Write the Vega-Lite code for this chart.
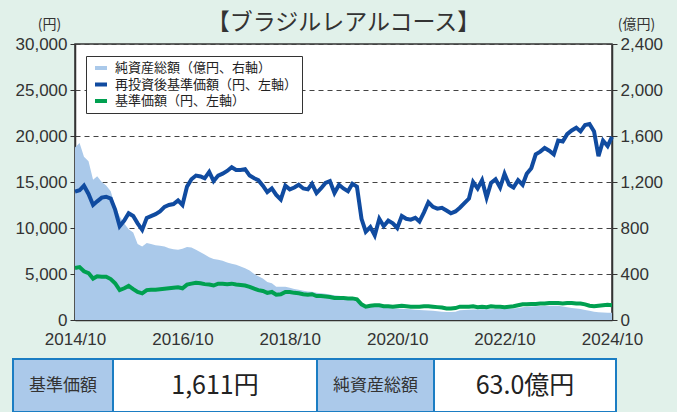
{
  "$schema": "https://vega.github.io/schema/vega-lite/v6.json",
  "background": "#e1f1ea",
  "autosize": {"type": "none"},
  "padding": {"left": 13, "top": 44, "right": 664, "bottom": 368},
  "config": {"font": "Noto Sans CJK JP", "view": {"stroke": null}},
  "datasets": {
    "series": [
      {"d":"2014-10-01","re":13950,"nav":5650,"aum":1500},
      {"d":"2014-11-01","re":14100,"nav":5750,"aum":1540},
      {"d":"2014-12-01","re":14600,"nav":5300,"aum":1420},
      {"d":"2015-01-01","re":13700,"nav":5100,"aum":1380},
      {"d":"2015-02-01","re":12500,"nav":4500,"aum":1220},
      {"d":"2015-03-01","re":12900,"nav":4750,"aum":1250},
      {"d":"2015-04-01","re":13300,"nav":4700,"aum":1200},
      {"d":"2015-05-01","re":13400,"nav":4700,"aum":1170},
      {"d":"2015-06-01","re":13200,"nav":4450,"aum":1120},
      {"d":"2015-07-01","re":12000,"nav":4000,"aum":990},
      {"d":"2015-08-01","re":10200,"nav":3250,"aum":900},
      {"d":"2015-09-01","re":10800,"nav":3450,"aum":840},
      {"d":"2015-10-01","re":11600,"nav":3700,"aum":790},
      {"d":"2015-11-01","re":11300,"nav":3350,"aum":760},
      {"d":"2015-12-01","re":10500,"nav":3050,"aum":660},
      {"d":"2016-01-01","re":9800,"nav":2900,"aum":640},
      {"d":"2016-02-01","re":11100,"nav":3250,"aum":670},
      {"d":"2016-03-01","re":11300,"nav":3300,"aum":660},
      {"d":"2016-04-01","re":11500,"nav":3300,"aum":650},
      {"d":"2016-05-01","re":11800,"nav":3350,"aum":645},
      {"d":"2016-06-01","re":12300,"nav":3400,"aum":640},
      {"d":"2016-07-01","re":12500,"nav":3450,"aum":625},
      {"d":"2016-08-01","re":12600,"nav":3500,"aum":615},
      {"d":"2016-09-01","re":13000,"nav":3550,"aum":610},
      {"d":"2016-10-01","re":12500,"nav":3450,"aum":620},
      {"d":"2016-11-01","re":14500,"nav":3850,"aum":635},
      {"d":"2016-12-01","re":15300,"nav":3950,"aum":630},
      {"d":"2017-01-01","re":15700,"nav":4050,"aum":610},
      {"d":"2017-02-01","re":15600,"nav":4000,"aum":590},
      {"d":"2017-03-01","re":15400,"nav":3900,"aum":570},
      {"d":"2017-04-01","re":16100,"nav":3850,"aum":545},
      {"d":"2017-05-01","re":15100,"nav":3750,"aum":530},
      {"d":"2017-06-01","re":15700,"nav":3950,"aum":525},
      {"d":"2017-07-01","re":15900,"nav":3950,"aum":515},
      {"d":"2017-08-01","re":16200,"nav":3900,"aum":500},
      {"d":"2017-09-01","re":16600,"nav":3950,"aum":490},
      {"d":"2017-10-01","re":16300,"nav":3850,"aum":480},
      {"d":"2017-11-01","re":16300,"nav":3800,"aum":465},
      {"d":"2017-12-01","re":16400,"nav":3750,"aum":450},
      {"d":"2018-01-01","re":15700,"nav":3600,"aum":430},
      {"d":"2018-02-01","re":15400,"nav":3400,"aum":400},
      {"d":"2018-03-01","re":15200,"nav":3250,"aum":380},
      {"d":"2018-04-01","re":14600,"nav":3150,"aum":360},
      {"d":"2018-05-01","re":13900,"nav":2950,"aum":330},
      {"d":"2018-06-01","re":14300,"nav":3050,"aum":320},
      {"d":"2018-07-01","re":13600,"nav":2750,"aum":290},
      {"d":"2018-08-01","re":13100,"nav":2800,"aum":290},
      {"d":"2018-09-01","re":14600,"nav":3050,"aum":290},
      {"d":"2018-10-01","re":14200,"nav":3050,"aum":280},
      {"d":"2018-11-01","re":14400,"nav":2950,"aum":270},
      {"d":"2018-12-01","re":14700,"nav":2900,"aum":262},
      {"d":"2019-01-01","re":14300,"nav":2800,"aum":255},
      {"d":"2019-02-01","re":14200,"nav":2750,"aum":248},
      {"d":"2019-03-01","re":14800,"nav":2800,"aum":245},
      {"d":"2019-04-01","re":13800,"nav":2600,"aum":238},
      {"d":"2019-05-01","re":14300,"nav":2600,"aum":232},
      {"d":"2019-06-01","re":14900,"nav":2550,"aum":228},
      {"d":"2019-07-01","re":15100,"nav":2500,"aum":222},
      {"d":"2019-08-01","re":13800,"nav":2400,"aum":215},
      {"d":"2019-09-01","re":14700,"nav":2400,"aum":210},
      {"d":"2019-10-01","re":14300,"nav":2400,"aum":205},
      {"d":"2019-11-01","re":14000,"nav":2350,"aum":200},
      {"d":"2019-12-01","re":14800,"nav":2350,"aum":195},
      {"d":"2020-01-01","re":14500,"nav":2250,"aum":188},
      {"d":"2020-02-01","re":11000,"nav":1700,"aum":140},
      {"d":"2020-03-01","re":9600,"nav":1450,"aum":125},
      {"d":"2020-04-01","re":10100,"nav":1550,"aum":118},
      {"d":"2020-05-01","re":9200,"nav":1600,"aum":113},
      {"d":"2020-06-01","re":11000,"nav":1600,"aum":112},
      {"d":"2020-07-01","re":10200,"nav":1500,"aum":108},
      {"d":"2020-08-01","re":10800,"nav":1500,"aum":105},
      {"d":"2020-09-01","re":10500,"nav":1450,"aum":102},
      {"d":"2020-10-01","re":10000,"nav":1500,"aum":100},
      {"d":"2020-11-01","re":11300,"nav":1550,"aum":98},
      {"d":"2020-12-01","re":11000,"nav":1500,"aum":95},
      {"d":"2021-01-01","re":10900,"nav":1450,"aum":93},
      {"d":"2021-02-01","re":11100,"nav":1450,"aum":90},
      {"d":"2021-03-01","re":10700,"nav":1450,"aum":88},
      {"d":"2021-04-01","re":11700,"nav":1500,"aum":84},
      {"d":"2021-05-01","re":12800,"nav":1500,"aum":82},
      {"d":"2021-06-01","re":12300,"nav":1450,"aum":80},
      {"d":"2021-07-01","re":12100,"nav":1400,"aum":76},
      {"d":"2021-08-01","re":12200,"nav":1350,"aum":72},
      {"d":"2021-09-01","re":11900,"nav":1250,"aum":70},
      {"d":"2021-10-01","re":11600,"nav":1250,"aum":70},
      {"d":"2021-11-01","re":11800,"nav":1300,"aum":72},
      {"d":"2021-12-01","re":12200,"nav":1450,"aum":85},
      {"d":"2022-01-01","re":12700,"nav":1450,"aum":88},
      {"d":"2022-02-01","re":13200,"nav":1450,"aum":90},
      {"d":"2022-03-01","re":15000,"nav":1500,"aum":92},
      {"d":"2022-04-01","re":14300,"nav":1400,"aum":92},
      {"d":"2022-05-01","re":15200,"nav":1450,"aum":93},
      {"d":"2022-06-01","re":13300,"nav":1400,"aum":93},
      {"d":"2022-07-01","re":14900,"nav":1500,"aum":93},
      {"d":"2022-08-01","re":15300,"nav":1450,"aum":95},
      {"d":"2022-09-01","re":14400,"nav":1450,"aum":97},
      {"d":"2022-10-01","re":15900,"nav":1400,"aum":98},
      {"d":"2022-11-01","re":14700,"nav":1450,"aum":100},
      {"d":"2022-12-01","re":14400,"nav":1500,"aum":100},
      {"d":"2023-01-01","re":15200,"nav":1600,"aum":105},
      {"d":"2023-02-01","re":14700,"nav":1700,"aum":110},
      {"d":"2023-03-01","re":15900,"nav":1700,"aum":115},
      {"d":"2023-04-01","re":16500,"nav":1750,"aum":118},
      {"d":"2023-05-01","re":18000,"nav":1750,"aum":120},
      {"d":"2023-06-01","re":18300,"nav":1800,"aum":122},
      {"d":"2023-07-01","re":18700,"nav":1800,"aum":123},
      {"d":"2023-08-01","re":18400,"nav":1850,"aum":124},
      {"d":"2023-09-01","re":18000,"nav":1850,"aum":125},
      {"d":"2023-10-01","re":19500,"nav":1850,"aum":125},
      {"d":"2023-11-01","re":19400,"nav":1800,"aum":118},
      {"d":"2023-12-01","re":20200,"nav":1850,"aum":110},
      {"d":"2024-01-01","re":20600,"nav":1850,"aum":105},
      {"d":"2024-02-01","re":20900,"nav":1800,"aum":100},
      {"d":"2024-03-01","re":20500,"nav":1800,"aum":95},
      {"d":"2024-04-01","re":21200,"nav":1700,"aum":88},
      {"d":"2024-05-01","re":21300,"nav":1550,"aum":80},
      {"d":"2024-06-01","re":20500,"nav":1500,"aum":72},
      {"d":"2024-07-01","re":17800,"nav":1550,"aum":68},
      {"d":"2024-08-01","re":19500,"nav":1600,"aum":65},
      {"d":"2024-09-01","re":18900,"nav":1650,"aum":64},
      {"d":"2024-10-01","re":19900,"nav":1611,"aum":63}
    ],
    "table": [
      {"item": "基準価額", "value": "1,611円"},
      {"item": "純資産総額", "value": "63.0億円"}
    ]
  },
  "align": "none",
  "spacing": 10,
  "vconcat": [
    {
      "bounds": "flush",
      "spacing": 0,
      "hconcat": [
        {
          "width": 62,
          "height": 276,
          "data": {"values": []},
          "mark": {"type": "text"},
          "encoding": {"text": {"value": ""}}
        },
        {
          "width": 537,
          "height": 276,
          "data": {"name": "series"},
          "title": {"text": "【ブラジルレアルコース】", "fontSize": 23, "font": "Noto Sans CJK JP", "fontWeight": "normal", "color": "#333333", "anchor": "middle", "frame": "group", "offset": -18},
          "view": {"stroke": "#333333", "strokeWidth": 1.5, "fill": "white"},
          "encoding": {
            "x": {
              "field": "d", "type": "temporal",
              "scale": {"type": "utc", "domain": [{"year": 2014, "month": 10, "date": 1, "utc": true}, {"year": 2024, "month": 10, "date": 1, "utc": true}]},
              "axis": {
                "title": null,
                "values": [
                  {"year": 2014, "month": 10, "date": 1, "utc": true},
                  {"year": 2016, "month": 10, "date": 1, "utc": true},
                  {"year": 2018, "month": 10, "date": 1, "utc": true},
                  {"year": 2020, "month": 10, "date": 1, "utc": true},
                  {"year": 2022, "month": 10, "date": 1, "utc": true},
                  {"year": 2024, "month": 10, "date": 1, "utc": true}
                ],
                "format": "%Y/%m",
                "labelFlush": false,
                "labelFont": "Liberation Sans",
                "labelFontSize": 17,
                "labelColor": "#333333",
                "tickSize": -7,
                "tickColor": "#333333",
                "tickWidth": 1.2,
                "labelPadding": 18,
                "domainColor": "#333333",
                "domainWidth": 1.5,
                "grid": false
              }
            }
          },
          "layer": [
            {
              "mark": {"type": "area", "opacity": 1},
              "encoding": {
                "y": {
                  "field": "aum", "type": "quantitative",
                  "scale": {"domain": [0, 2400]},
                  "axis": {
                    "orient": "right",
                    "title": "(億円)",
                    "titleAngle": 0, "titleX": 24, "titleY": -20, "titleAlign": "center", "titleBaseline": "middle",
                    "titleFontSize": 14, "titleFontWeight": "normal", "titleColor": "#333333", "titleFont": "Noto Sans CJK JP",
                    "values": [0, 400, 800, 1200, 1600, 2000, 2400],
                    "format": ",.0f",
                    "labelFont": "Liberation Sans", "labelFontSize": 17, "labelColor": "#333333", "labelPadding": 3,
                    "tickSize": 5, "tickColor": "#333333", "domainColor": "#333333", "domainWidth": 1.5,
                    "grid": false
                  }
                },
                "color": {
                  "datum": "純資産総額（億円、右軸）", "type": "nominal",
                  "scale": {
                    "domain": ["純資産総額（億円、右軸）", "再投資後基準価額（円、左軸）", "基準価額（円、左軸）"],
                    "range": ["#aac9ea", "#104ba0", "#00a050"]
                  },
                  "legend": {
                    "orient": "none", "legendX": 73, "legendY": 12,
                    "title": null, "direction": "vertical",
                    "fillColor": "white", "strokeColor": "#333333", "padding": 4,
                    "labelFont": "Noto Sans CJK JP", "labelFontSize": 13, "labelColor": "#222222",
                    "labelOffset": 6, "labelLimit": 400,
                    "symbolType": "stroke", "symbolOffset": 3,
                    "symbolSize": 144, "symbolStrokeWidth": 4, "rowPadding": 0.5,
                    "encode": {
                      "symbols": {
                        "shape": {"value": {"expr": "datum.value === '純資産総額（億円、右軸）' ? 'M-1.4,-0.9L1.4,-0.9L1.4,0.9L-1.4,0.9Z' : 'M-1.4,0L1.4,0'"}},
                        "fill": {"value": {"expr": "datum.value === '純資産総額（億円、右軸）' ? '#aac9ea' : 'transparent'"}},
                        "stroke": {"value": {"expr": "datum.value === '純資産総額（億円、右軸）' ? 'transparent' : (datum.value === '基準価額（円、左軸）' ? '#00a050' : '#104ba0')"}},
                        "strokeWidth": {"value": 4},
                        "opacity": {"value": 1}
                      }
                    }
                  }
                }
              }
            },
            {
              "layer": [
                {
                  "mark": {"type": "line", "strokeWidth": 4},
                  "encoding": {
                    "y": {
                      "field": "re", "type": "quantitative", "title": "(円)",
                      "scale": {"domain": [0, 30000]},
                      "axis": {
                        "orient": "left",
                        "titleAngle": 0, "titleX": -26, "titleY": -20, "titleAlign": "center", "titleBaseline": "middle",
                        "titleFontSize": 14, "titleFontWeight": "normal", "titleColor": "#333333", "titleFont": "Noto Sans CJK JP",
                        "values": [0, 5000, 10000, 15000, 20000, 25000, 30000],
                        "format": ",.0f",
                        "labelFont": "Liberation Sans", "labelFontSize": 17, "labelColor": "#333333", "labelPadding": 3,
                        "tickSize": 5, "tickColor": "#333333", "domainColor": "#333333", "domainWidth": 1.5,
                        "grid": true, "gridDash": [5, 4], "gridColor": "#444444", "gridWidth": 1
                      }
                    },
                    "color": {"datum": "再投資後基準価額（円、左軸）", "type": "nominal"}
                  }
                },
                {
                  "mark": {"type": "line", "strokeWidth": 4},
                  "encoding": {
                    "y": {"field": "nav", "type": "quantitative", "title": "(円)"},
                    "color": {"datum": "基準価額（円、左軸）", "type": "nominal"}
                  }
                }
              ]
            }
          ],
          "resolve": {"scale": {"y": "independent"}, "axis": {"y": "independent"}}
        }
      ]
    },
    {
      "data": {"name": "table"},
      "align": "each",
      "bounds": "flush",
      "spacing": 0,
      "hconcat": [
        {
          "width": 100, "height": 53,
          "view": {"fill": "#abc9ea", "stroke": "#1b7dc3", "strokeWidth": 2},
          "transform": [{"filter": "datum.item === '基準価額'"}],
          "mark": {"type": "text", "fontSize": 17, "color": "#333333", "font": "Noto Sans CJK JP"},
          "encoding": {"text": {"field": "item"}}
        },
        {
          "width": 204, "height": 53,
          "view": {"fill": "white", "stroke": "#1b7dc3", "strokeWidth": 2},
          "transform": [{"filter": "datum.item === '基準価額'"}],
          "mark": {"type": "text", "fontSize": 25, "color": "#222222", "font": "Liberation Sans Narrow, Noto Sans CJK JP"},
          "encoding": {"text": {"field": "value"}}
        },
        {
          "width": 117, "height": 53,
          "view": {"fill": "#abc9ea", "stroke": "#1b7dc3", "strokeWidth": 2},
          "transform": [{"filter": "datum.item === '純資産総額'"}],
          "mark": {"type": "text", "fontSize": 17, "color": "#333333", "font": "Noto Sans CJK JP"},
          "encoding": {"text": {"field": "item"}}
        },
        {
          "width": 182, "height": 53,
          "view": {"fill": "white", "stroke": "#1b7dc3", "strokeWidth": 2},
          "transform": [{"filter": "datum.item === '純資産総額'"}],
          "mark": {"type": "text", "fontSize": 25, "color": "#222222", "font": "Liberation Sans Narrow, Noto Sans CJK JP"},
          "encoding": {"text": {"field": "value"}}
        }
      ]
    }
  ]
}
